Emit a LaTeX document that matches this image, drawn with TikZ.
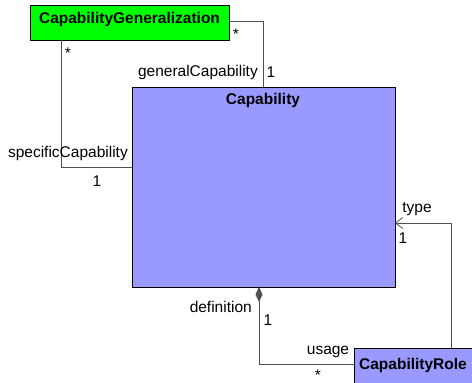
\documentclass[tikz,border=0pt]{standalone}
\usepackage{fontspec}
\setmainfont{Liberation Sans}
\usetikzlibrary{arrows.meta}
\definecolor{cgreen}{HTML}{00FF00}
\definecolor{cpurple}{HTML}{9999FF}
\definecolor{lgray}{HTML}{505050}
\begin{document}
\begin{tikzpicture}[x=1pt,y=-1pt,
  box/.style={draw=black,line width=1pt,inner sep=0pt,anchor=north west},
  title/.style={font=\fontsize{15.5}{17}\selectfont\bfseries,inner sep=0pt},
  lbl/.style={font=\fontsize{15.5}{17}\selectfont,inner sep=0pt},
  conn/.style={draw=lgray,line width=0.8pt}]
\useasboundingbox (0,0) rectangle (472,383);
\fill[white] (0,0) rectangle (472,383);
% boxes
\node[box,fill=cgreen,minimum width=199pt,minimum height=35pt] (cg) at (30,5) {};
\node[title] (cgt) at (129.5,19) {CapabilityGeneralization};
\node[box,fill=cpurple,minimum width=263pt,minimum height=200pt] (cap) at (132,87) {};
\node[title] (capt) at (263,100) {Capability};
\begin{scope}
\clip (0,0) rectangle (472,383);
\node[box,fill=cpurple,minimum width=122pt,minimum height=40pt] (cr) at (354,348) {};
\end{scope}
\node[title] (crt) at (413,365) {CapabilityRole};
% connectors
\coordinate (g1) at (229,21);
\coordinate (g2) at (263,87);
\draw[conn] (g1) -| (g2);
\coordinate (s1) at (61,40);
\coordinate (s2) at (132,167);
\draw[conn] (s1) |- (s2);
\coordinate (t1) at (451,348);
\coordinate (t2) at (395,223);
\draw[conn,-{Straight Barb[length=7pt,width=11pt]}] (t1) |- (t2);
\coordinate (d1) at (259,287);
\coordinate (d2) at (354,364);
\draw[conn,{Diamond[length=15pt,width=7pt,fill=lgray]}-] (d1) |- (d2);
% labels
\node[lbl] (l1) at (236,34) {*};
\node[lbl,anchor=east] (l2) at (258,72) {generalCapability};
\node[lbl] (l3) at (271,72) {1};
\node[lbl] (l4) at (68,53) {*};
\node[lbl,anchor=east] (l5) at (128,153) {specificCapability};
\node[lbl] (l6) at (97,181) {1};
\node[lbl] (l7) at (417,209) {type};
\node[lbl] (l8) at (403,238) {1};
\node[lbl,anchor=east] (l9) at (252,307) {definition};
\node[lbl] (l10) at (268,320) {1};
\node[lbl] (l11) at (328,352) {usage};
\node[lbl] (l12) at (318,375) {*};
\end{tikzpicture}
\end{document}
